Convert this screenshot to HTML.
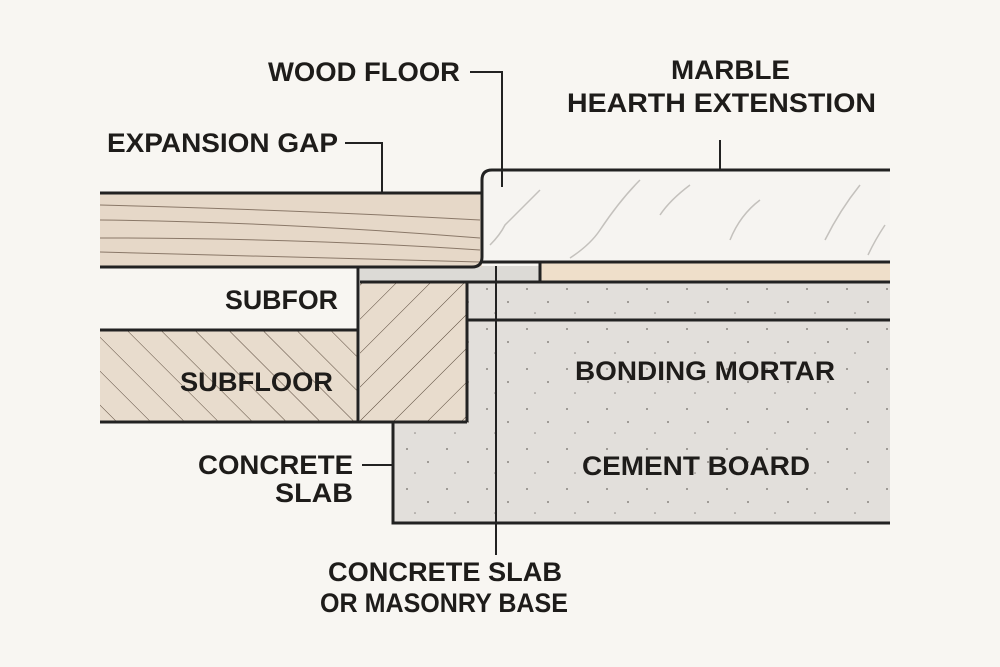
<!DOCTYPE html>
<html><head><meta charset="utf-8"><style>
html,body{margin:0;padding:0;background:#f8f6f2;}
svg{display:block}
text{font-family:"Liberation Sans",sans-serif;font-weight:bold;fill:#1e1c1a;font-size:27px;}
</style></head><body>
<svg width="1000" height="667" viewBox="0 0 1000 667">
<defs>
<pattern id="hb" width="24" height="24" patternUnits="userSpaceOnUse" patternTransform="rotate(-45)">
<rect width="24" height="24" fill="#e8dccd"/><line x1="0" y1="0" x2="0" y2="24" stroke="#5a4a3c" stroke-width="1"/></pattern>
<pattern id="hf" width="24" height="24" patternUnits="userSpaceOnUse" patternTransform="rotate(45)">
<rect width="24" height="24" fill="#e8dccd"/><line x1="0" y1="0" x2="0" y2="24" stroke="#5a4a3c" stroke-width="1"/></pattern>
<pattern id="dots" width="40" height="40" patternUnits="userSpaceOnUse">
<rect width="40" height="40" fill="#e2dfdb"/><circle cx="7" cy="9" r="1" fill="#8a8580"/><circle cx="28" cy="22" r="1" fill="#8a8580"/><circle cx="15" cy="33" r="0.8" fill="#8a8580"/></pattern>
</defs>
<rect width="1000" height="667" fill="#f8f6f2"/>
<rect x="467" y="282" width="423" height="38" fill="url(#dots)"/>
<rect x="393" y="320" width="497" height="203" fill="url(#dots)"/>
<rect x="360" y="266" width="180" height="16" fill="#dcdad6"/>
<rect x="540" y="262" width="350" height="20" fill="#efdfca"/>
<rect x="100" y="330" width="258" height="92" fill="url(#hb)"/>
<rect x="360" y="282" width="107" height="140" fill="url(#hf)"/>
<rect x="100" y="193" width="382" height="74" fill="#e6d8c8"/>
<g stroke="#8a7868" stroke-width="1" fill="none">
<path d="M100 205 Q300 210 480 220"/><path d="M100 220 Q280 222 480 238"/><path d="M100 238 Q300 238 480 250"/><path d="M100 252 Q260 256 480 262"/></g>
<path d="M482 262 V180 Q482 170 492 170 H890 V262 Z" fill="#f6f4f1"/>
<g stroke="#c4c1bd" stroke-width="1.5" fill="none">
<path d="M540 190 Q520 210 505 225 Q500 235 490 245"/><path d="M640 180 Q620 200 600 230 Q590 245 570 258"/><path d="M690 185 Q670 200 660 215"/><path d="M760 200 Q740 215 730 240"/><path d="M860 185 Q840 210 825 240"/><path d="M885 225 Q875 240 868 255"/></g>
<g stroke="#222" stroke-width="3" fill="none">
<path d="M100 193 H482"/><path d="M100 267 H472 Q482 267 482 257 V180 Q482 170 492 170 H890"/>
<path d="M482 262 H890"/><path d="M540 262 V282"/>
<path d="M358 267 V422"/><path d="M100 330 H358"/><path d="M100 422 H467"/>
<path d="M360 282 H890"/><path d="M467 282 V422"/><path d="M467 320 H890"/>
<path d="M393 422 V523 H890"/>
</g>
<g stroke="#222" stroke-width="2" fill="none">
<path d="M345 143 H382 V193"/><path d="M470 72 H502 V187"/><path d="M720 140 V170"/>
<path d="M496 266 V555"/><path d="M362 465 H393"/>
</g>
<g lengthAdjust="spacingAndGlyphs">
<text x="268" y="81" textLength="192" lengthAdjust="spacingAndGlyphs">WOOD FLOOR</text>
<text x="671" y="79" textLength="119" lengthAdjust="spacingAndGlyphs">MARBLE</text>
<text x="567" y="112" textLength="309" lengthAdjust="spacingAndGlyphs">HEARTH EXTENSTION</text>
<text x="107" y="152" textLength="231" lengthAdjust="spacingAndGlyphs">EXPANSION GAP</text>
<text x="225" y="309" textLength="113" lengthAdjust="spacingAndGlyphs">SUBFOR</text>
<text x="180" y="391" textLength="153" lengthAdjust="spacingAndGlyphs">SUBFLOOR</text>
<text x="198" y="474" textLength="155" lengthAdjust="spacingAndGlyphs">CONCRETE</text>
<text x="275" y="502" textLength="78" lengthAdjust="spacingAndGlyphs">SLAB</text>
<text x="575" y="380" textLength="260" lengthAdjust="spacingAndGlyphs">BONDING MORTAR</text>
<text x="582" y="475" textLength="228" lengthAdjust="spacingAndGlyphs">CEMENT BOARD</text>
<text x="328" y="581" textLength="234" lengthAdjust="spacingAndGlyphs">CONCRETE SLAB</text>
<text x="320" y="612" textLength="248" lengthAdjust="spacingAndGlyphs">OR MASONRY BASE</text>
</g>
</svg>
</body></html>
